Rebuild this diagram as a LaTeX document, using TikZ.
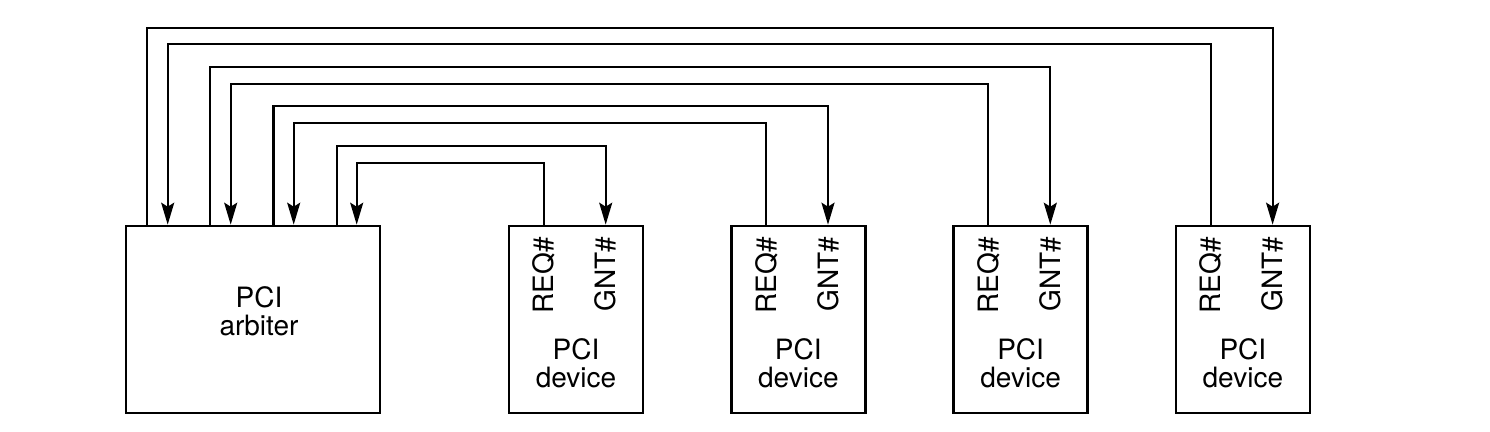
\documentclass[tikz,border=0pt]{standalone}
\usepackage{fontspec}
\setmainfont{TeX Gyre Heros}
\usetikzlibrary{arrows.meta,calc}

\tikzset{
  unit box/.style={draw, line width=1.3pt, minimum height=93.5pt, inner sep=0pt},
  unit text/.style={align=center, inner sep=0pt},
  pin label/.style={rotate=90, inner sep=0pt},
  wire/.style={line width=1.1pt}
}

\begin{document}
\begin{tikzpicture}[x=0.5pt, y=-0.5pt, >={Stealth[length=11pt, width=6.5pt, inset=2pt]},
    font=\fontsize{14}{14}\selectfont]
        \useasboundingbox (0,0) rectangle (1490,432);
        \node [unit box, minimum width=127pt] (arbiter) at (253,319.5) {};
        \node [unit text] (arbiter-text) at (259,311) {PCI\\arbiter};
        \foreach \i in {1,...,4} {
          \node [unit box, minimum width=67pt] (device-\i) at ({576+222.3*(\i-1)},319.5) {};
          \node [unit text] (device-text-\i) at ($(device-\i.north)+(0,139)$) {PCI\\device};
          \node [pin label, anchor=base east] (req-\i) at ($(device-\i.north west)+(46,12)$) {REQ\#};
          \node [pin label, anchor=base east] (gnt-\i) at ($(device-\i.north west)+(108,12)$) {GNT\#};
          \coordinate (req-pin-\i) at ($(device-\i.north west)+(36,0)$);
          \coordinate (gnt-pin-\i) at ($(device-\i.north west)+(98,0)$);
          \coordinate (arb-req-\i) at ($(arbiter.north west)+({232-63*(\i-1)},0)$);
          \coordinate (arb-gnt-\i) at ($(arbiter.north west)+({212-63.3*(\i-1)},0)$);
        }
        % request lines into the arbiter
        \foreach \i in {1,...,4}
          \draw [wire, ->] (req-pin-\i) -- ++(0,{-62-39.5*(\i-1)}) -| (arb-req-\i);
        % grant lines out to the devices
        \foreach \i in {1,...,4}
          \draw [wire, ->] (arb-gnt-\i) -- ++(0,{-79-39.3*(\i-1)}) -| (gnt-pin-\i);
\end{tikzpicture}
\end{document}
